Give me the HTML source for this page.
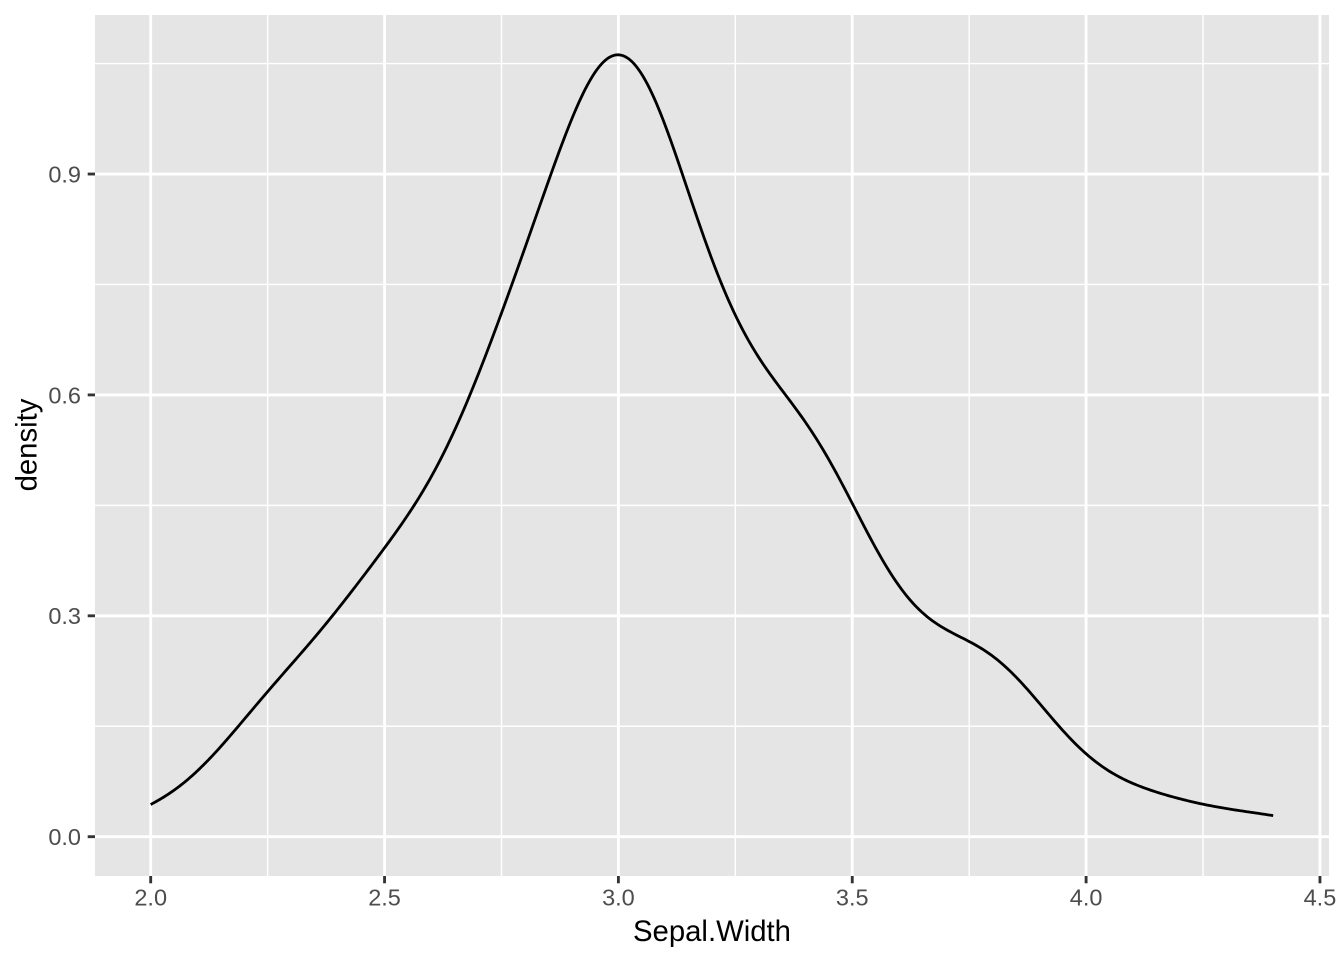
<!DOCTYPE html>
<html>
<head>
<meta charset="utf-8">
<style>
  html,body{margin:0;padding:0;background:#fff;}
  svg{display:block;}
  text{font-family:"Liberation Sans",Arial,sans-serif;}
</style>
</head>
<body>
<svg id="chart" width="1344" height="960" viewBox="0 0 1344 960" xmlns="http://www.w3.org/2000/svg">
  <rect x="0" y="0" width="1344" height="960" fill="#ffffff"/>
  <!-- panel -->
  <rect x="95" y="15" width="1234" height="861" fill="#E5E5E5"/>
  <g id="grid"></g>
  <path id="curve" fill="none" stroke="#000" stroke-width="2.8" stroke-linejoin="round" stroke-linecap="butt"
    d="M150,804 L200,770 L267,695 L330,615 L384,545 L420,490 L460,410 L500,300 L540,190 L580,95 L618,53 L640,60 L680,150 L720,270 L760,345 L800,400 L852,500 L900,590 L940,625 L985,650 L1030,700 L1086,750 L1150,785 L1200,800 L1273,816"/>
  <g id="axes"></g>
  <text x="712" y="941" font-size="29.3" text-anchor="middle" fill="#000">Sepal.Width</text>
  <text transform="translate(36.5,445) rotate(-90)" font-size="29.3" text-anchor="middle" fill="#000">density</text>
</svg>
<script>
(function(){
  var NS="http://www.w3.org/2000/svg";
  var X0=150.7, XS=467.7, Y0=836.7, YS=736.3;
  var L=95, R=1329, T=15, B=876;
  function px(x){return X0+(x-2)*XS;}
  function py(y){return Y0-y*YS;}
  function el(tag,attrs,parent,txt){
    var e=document.createElementNS(NS,tag);
    for(var k in attrs) e.setAttribute(k,attrs[k]);
    if(txt!==undefined) e.textContent=txt;
    parent.appendChild(e); return e;
  }
  var grid=document.getElementById('grid');
  var axes=document.getElementById('axes');
  [2.25,2.75,3.25,3.75,4.25].forEach(function(v){
    el('line',{x1:px(v),x2:px(v),y1:T,y2:B,stroke:'#fff','stroke-width':1.42},grid);
  });
  [0.15,0.45,0.75,1.05].forEach(function(v){
    el('line',{x1:L,x2:R,y1:py(v),y2:py(v),stroke:'#fff','stroke-width':1.42},grid);
  });
  var xt=[2.0,2.5,3.0,3.5,4.0,4.5];
  var yt=[0.0,0.3,0.6,0.9];
  xt.forEach(function(v){
    el('line',{x1:px(v),x2:px(v),y1:T,y2:B,stroke:'#fff','stroke-width':2.85},grid);
    el('line',{x1:px(v),x2:px(v),y1:B,y2:B+7.3,stroke:'#333','stroke-width':2.85},axes);
    el('text',{x:px(v),y:905.5,'font-size':23.5,'text-anchor':'middle',fill:'#4D4D4D'},axes,v.toFixed(1));
  });
  yt.forEach(function(v){
    el('line',{x1:L,x2:R,y1:py(v),y2:py(v),stroke:'#fff','stroke-width':2.85},grid);
    el('line',{x1:L-7.3,x2:L,y1:py(v),y2:py(v),stroke:'#333','stroke-width':2.85},axes);
    el('text',{x:81,y:py(v)+8.4,'font-size':23.5,'text-anchor':'end',fill:'#4D4D4D'},axes,v.toFixed(1));
  });
  var d=[3.5,3.0,3.2,3.1,3.6,3.9,3.4,3.4,2.9,3.1,3.7,3.4,3.0,3.0,4.0,4.4,3.9,3.5,3.8,3.8,3.4,3.7,3.6,3.3,3.4,3.0,3.4,3.5,3.4,3.2,3.1,3.4,4.1,4.2,3.1,3.2,3.5,3.6,3.0,3.4,3.5,2.3,3.2,3.5,3.8,3.0,3.8,3.2,3.7,3.3,
  3.2,3.2,3.1,2.3,2.8,2.8,3.3,2.4,2.9,2.7,2.0,3.0,2.2,2.9,2.9,3.1,3.0,2.7,2.2,2.5,3.2,2.8,2.5,2.8,2.9,3.0,2.8,3.0,2.9,2.6,2.4,2.4,2.7,2.7,3.0,3.4,3.1,2.3,3.0,2.5,2.6,3.0,2.6,2.3,2.7,3.0,2.9,2.9,2.5,2.8,
  3.3,2.7,3.0,2.9,3.0,3.0,2.5,2.9,2.5,3.6,3.2,2.7,3.0,2.5,2.8,3.2,3.0,3.8,2.6,2.2,3.2,2.8,2.8,2.7,3.3,3.2,2.8,3.0,2.8,3.0,2.8,3.8,2.8,2.8,2.6,3.0,3.4,3.1,3.0,3.1,3.1,3.1,2.7,3.2,3.3,3.0,2.5,3.0,3.4,3.0];
  var n=d.length, m=0, i;
  for(i=0;i<n;i++) m+=d[i]; m/=n;
  var ss=0; for(i=0;i<n;i++) ss+=(d[i]-m)*(d[i]-m);
  var sd=Math.sqrt(ss/(n-1));
  var s=d.slice().sort(function(a,b){return a-b;});
  function q(p){var h=(n-1)*p, lo=Math.floor(h), f=h-lo; return s[lo]+(lo+1<n? f*(s[lo+1]-s[lo]):0);}
  var iqr=q(0.75)-q(0.25);
  var bw=0.9*Math.min(sd, iqr/1.34)*Math.pow(n,-0.2);
  var c=1/(n*bw*Math.sqrt(2*Math.PI));
  var pts=[];
  var xmin=s[0], xmax=s[n-1];
  for(var k=0;k<512;k++){
    var x=xmin+(xmax-xmin)*k/511, y=0;
    for(i=0;i<n;i++){var z=(x-d[i])/bw; y+=Math.exp(-0.5*z*z);}
    y*=c;
    pts.push((k?'L':'M')+px(x).toFixed(2)+','+py(y).toFixed(2));
  }
  document.getElementById('curve').setAttribute('d',pts.join(' '));
})();
</script>
</body>
</html>
